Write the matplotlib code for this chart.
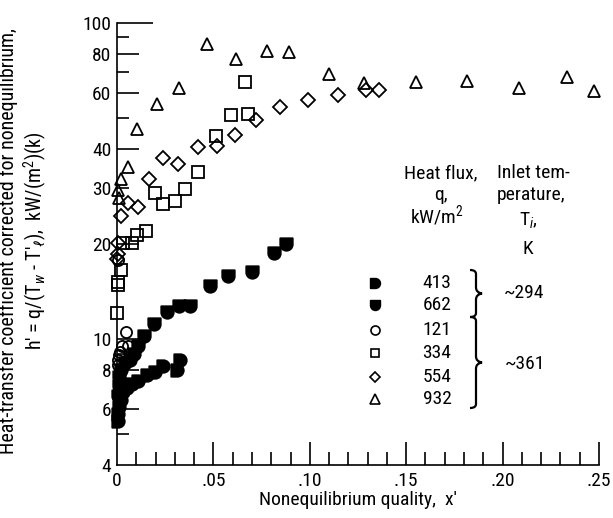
import matplotlib
matplotlib.use("Agg")
import matplotlib.pyplot as plt
from matplotlib.path import Path
from matplotlib.patches import PathPatch
from matplotlib.lines import Line2D
from matplotlib.ticker import FixedLocator, NullFormatter, NullLocator

FONT = 'Roboto Condensed'
plt.rcParams['font.family'] = [FONT, 'DejaVu Sans']
plt.rcParams['mathtext.fontset'] = 'custom'
plt.rcParams['mathtext.rm'] = FONT
plt.rcParams['mathtext.it'] = FONT + ':italic'

# data
x_413 = [0.0005, 0.0007, 0.0012, 0.002, 0.0033, 0.005, 0.0076, 0.0107, 0.0154, 0.0197, 0.024, 0.0309, 0.0326]
y_413 = [5.5, 5.8, 6.1, 6.4, 6.8, 7.0, 7.2, 7.4, 7.7, 7.9, 8.2, 8.0, 8.6]

x_662 = [0.0005, 0.0008, 0.0012, 0.002, 0.004, 0.0067, 0.009, 0.011, 0.0141, 0.0193, 0.0258,
         0.0321, 0.0378, 0.0482, 0.0577, 0.0698, 0.0815, 0.0874]
y_662 = [6.6, 7.1, 7.6, 8.0, 8.4, 8.6, 9.0, 9.5, 10.2, 11.2, 12.2, 12.7, 12.7, 14.7, 15.8, 16.3, 18.7, 20.0]

x_121 = [0.0003, 0.0005, 0.0008, 0.0015, 0.0025, 0.0058, 0.0045, 0.0006]
y_121 = [8.3, 8.6, 8.9, 9.1, 9.5, 9.5, 10.5, 17.8]

x_334 = [0.0002, 0.0007, 0.0007, 0.0019, 0.0033, 0.0079, 0.0105, 0.015, 0.0197, 0.024, 0.030,
         0.0352, 0.0418, 0.0513, 0.0592, 0.0679, 0.0663]
y_334 = [12.1, 14.8, 15.2, 16.5, 20.1, 20.1, 21.4, 22.0, 28.9, 26.8, 27.3, 29.8, 33.9, 44.0, 51.0, 51.4, 65.2]

x_554 = [0.0002, 0.0004, 0.0007, 0.0019, 0.0055, 0.0107, 0.0164, 0.0237, 0.0315, 0.0421, 0.052,
         0.0611, 0.0719, 0.0846, 0.0993, 0.1147, 0.1294, 0.1359]
y_554 = [17.9, 18.6, 20.1, 24.5, 26.9, 26.1, 32.1, 37.3, 35.7, 40.6, 40.8, 44.3, 49.2, 54.2, 57.2,
         59.2, 61.4, 61.4]

x_932 = [0.0007, 0.001, 0.0022, 0.0057, 0.0102, 0.0209, 0.032, 0.0465, 0.0617, 0.0779, 0.089,
         0.110, 0.128, 0.155, 0.1817, 0.2084, 0.2333, 0.2473]
y_932 = [29.6, 27.9, 32.0, 35.1, 46.1, 55.4, 62.4, 85.6, 76.8, 81.7, 81.2, 69.0, 64.4, 65.1, 65.4,
         62.3, 67.3, 61.1]

flux_labels = ['413', '662', '121', '334', '554', '932']
temp_labels = ['~294', '~361']

y_major = [4, 6, 8, 10, 20, 30, 40, 60, 80, 100]
y_major_len = [0, 22, 22, 34, 22, 12, 22, 22, 22, 36]   # pixels
y_minor = [5, 7, 9, 50, 70, 90]
x_major = [0, 0.05, 0.10, 0.15, 0.20, 0.25]
x_major_lbl = ['0', '.05', '.10', '.15', '.20', '.25']
x_minor = [i / 100 for i in range(1, 25) if i % 5]


def half_round(flat):
    # filled symbol: half square, half circle
    if flat == 'top':
        arc = Path.arc(180, 360)
        extra = [(1, 1), (-1, 1), (0, 0)]
    else:
        arc = Path.arc(270, 450)
        extra = [(-1, 1), (-1, -1), (0, 0)]
    verts = list(arc.vertices) + extra
    codes = list(arc.codes) + [Path.LINETO, Path.LINETO, Path.CLOSEPOLY]
    return Path(verts, codes)


m_413 = half_round('left')
m_662 = half_round('top')

W, H = 613, 518
AX_W, AX_H = 599 - 117, 465 - 23
fig = plt.figure(figsize=(W / 100, H / 100), dpi=100)
ax = fig.add_axes([117 / W, 1 - 465 / H, AX_W / W, AX_H / H])

ax.set_yscale('log')
ax.set_xlim(0, 0.25)
ax.set_ylim(4, 100)

mk = dict(linestyle='none', mec='black', mew=1.3, clip_on=False)
ax.plot(x_932, y_932, marker='^', ms=9, mfc='none', **mk)
ax.plot(x_554, y_554, marker='D', ms=7, mfc='none', **mk)
ax.plot(x_334, y_334, marker='s', ms=8, mfc='none', **mk)
ax.plot(x_121, y_121, marker='o', ms=8, mfc='none', **mk)
ax.plot(x_413, y_413, marker=m_413, ms=9, mfc='black', **mk)
ax.plot(x_662, y_662, marker=m_662, ms=9, mfc='black', **mk)

for s in ['top', 'right']:
    ax.spines[s].set_visible(False)
for s in ['left', 'bottom']:
    ax.spines[s].set_linewidth(1.2)

ax.yaxis.set_major_locator(FixedLocator(y_major))
ax.set_yticklabels([str(v) for v in y_major])
ax.yaxis.set_minor_locator(NullLocator())
ax.xaxis.set_major_locator(FixedLocator(x_major))
ax.set_xticklabels(x_major_lbl)
ax.xaxis.set_minor_locator(NullLocator())
ax.tick_params(which='both', length=0, labelsize=14)
ax.tick_params(axis='x', pad=5)
ax.tick_params(axis='y', pad=4)

# inward tick marks of several lengths
tk = dict(colors='black', lw=1.2, clip_on=False)
ax.vlines(x_major[1:], 0, 23 / AX_H, transform=ax.get_xaxis_transform(), **tk)
ax.vlines(x_minor, 0, 13 / AX_H, transform=ax.get_xaxis_transform(), **tk)
ax.hlines(y_major, 0, [L / AX_W for L in y_major_len], transform=ax.get_yaxis_transform(), **tk)
ax.hlines(y_minor, 0, 12 / AX_W, transform=ax.get_yaxis_transform(), **tk)

ax.set_xlabel("Nonequilibrium quality,  x'", fontsize=14, labelpad=1)

fig.text(24 / W, 1 - 241 / H,
         "Heat-transfer coefficient corrected for nonequilibrium,\n"
         r"h' = q/(T$_w$ - T$'_\ell$),  kW/(m$^2$)(k)",
         rotation=90, ha='center', va='center', multialignment='center',
         fontsize=14.4, linespacing=1.15)


def ftext(px, py, s, **kw):
    fig.text(px / W, 1 - py / H, s, fontsize=14, va='center', **kw)


# legend headers
ftext(441, 173, 'Heat flux,', ha='center')
ftext(441, 195, 'q,', ha='center')
ftext(437, 216, 'kW/m$^2$', ha='center')
ftext(497, 173, 'Inlet tem-', ha='left')
ftext(497, 195, 'perature,', ha='left')
ftext(528, 220, 'T$_i$,', ha='center')
ftext(528, 249, 'K', ha='center')

rows = [283, 305, 330, 353, 377, 399]
markers = [(m_413, 7, 'black'), (m_662, 7, 'black'), ('o', 6.5, 'none'),
           ('s', 6, 'none'), ('D', 5, 'none'), ('^', 7, 'none')]
for py, lbl, (m, ms, fc) in zip(rows, flux_labels, markers):
    ftext(437, py, lbl, ha='center')
    fig.add_artist(Line2D([375 / W], [1 - py / H], marker=m, ms=ms, mfc=fc, mec='black',
                          mew=1.2, linestyle='none', transform=fig.transFigure))


def brace(x, y0, y1, w):
    # vertical curly brace, tip to the right, in figure pixels
    ym = (y0 + y1) / 2
    c = w * 0.5
    v = [(x - c, y0), (x, y0), (x, y0 + 4), (x, ym - 6),
         (x, ym - 1), (x + c, ym), (x + c, ym),
         (x + c, ym), (x, ym + 1), (x, ym + 6),
         (x, y1 - 4), (x, y1), (x - c, y1)]
    codes = [Path.MOVETO, Path.CURVE3, Path.CURVE3, Path.LINETO,
             Path.CURVE3, Path.CURVE3, Path.LINETO,
             Path.LINETO, Path.CURVE3, Path.CURVE3,
             Path.LINETO, Path.CURVE3, Path.CURVE3]
    v = [(a / W, 1 - b / H) for a, b in v]
    fig.add_artist(PathPatch(Path(v, codes), fill=False, lw=1.6, ec='black',
                             transform=fig.transFigure))


brace(476, 270, 317, 12)
brace(476, 317, 408, 12)
ftext(524, 293, temp_labels[0], ha='center')
ftext(525, 364, temp_labels[1], ha='center')

fig.savefig('out.png', dpi=100)
